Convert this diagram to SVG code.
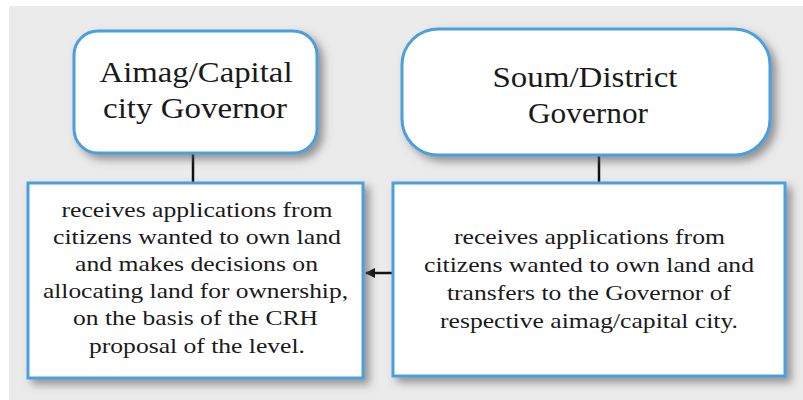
<svg xmlns="http://www.w3.org/2000/svg" width="803" height="400" viewBox="0 0 803 400">
<defs>
<style>
.box{fill:#ffffff;stroke:#4aa0dc;stroke-width:3;filter:url(#sh)}
.t{font-family:'Liberation Serif','Times New Roman',serif;fill:#1a1a1a;text-anchor:middle}
.h{font-size:29px}
.b{font-size:22px}
.c{stroke:#111;stroke-width:2.5;fill:none}
</style>
<filter id="sh" x="-10%" y="-10%" width="130%" height="130%">
<feDropShadow dx="5" dy="5" stdDeviation="4" flood-color="#555" flood-opacity="0.6"/>
</filter>
<marker id="ah" markerWidth="10" markerHeight="10" refX="9" refY="5" orient="auto" markerUnits="userSpaceOnUse">
<path d="M0,0 L10,5 L0,10 Z" fill="#111"/>
</marker>
</defs>
<rect x="0" y="0" width="803" height="400" fill="#ffffff"/>
<rect x="9" y="6" width="794" height="394" fill="#ebebeb"/>
<g id="connectors">
<line class="c" x1="193" y1="153" x2="193" y2="183"/>
<line class="c" x1="599" y1="155" x2="599" y2="183"/>
<line class="c" x1="393" y1="273" x2="366" y2="273" marker-end="url(#ah)"/>
</g>
<g id="aimag-governor">
<rect class="box" x="74" y="31" width="243" height="122" rx="24"/>
<text class="t h" x="196" y="82" textLength="193" lengthAdjust="spacingAndGlyphs">Aimag/Capital</text>
<text class="t h" x="195" y="118" textLength="184" lengthAdjust="spacingAndGlyphs">city Governor</text>
</g>
<g id="soum-governor">
<rect class="box" x="402" y="29" width="368" height="126" rx="36"/>
<text class="t h" x="585" y="87" textLength="185" lengthAdjust="spacingAndGlyphs">Soum/District</text>
<text class="t h" x="588" y="123" textLength="120" lengthAdjust="spacingAndGlyphs">Governor</text>
</g>
<g id="aimag-task">
<rect class="box" x="28" y="183" width="335" height="195"/>
<text class="t b" x="197" y="217" textLength="271" lengthAdjust="spacingAndGlyphs">receives applications from</text>
<text class="t b" x="197" y="244" textLength="288" lengthAdjust="spacingAndGlyphs">citizens wanted to own land</text>
<text class="t b" x="196.5" y="271" textLength="243" lengthAdjust="spacingAndGlyphs">and makes decisions on</text>
<text class="t b" x="195.5" y="298" textLength="305" lengthAdjust="spacingAndGlyphs">allocating land for ownership,</text>
<text class="t b" x="195.5" y="325" textLength="245" lengthAdjust="spacingAndGlyphs">on the basis of the CRH</text>
<text class="t b" x="197" y="353" textLength="216" lengthAdjust="spacingAndGlyphs">proposal of the level.</text>
</g>
<g id="soum-task">
<rect class="box" x="393" y="183" width="392" height="193"/>
<text class="t b" x="589.5" y="244" textLength="271" lengthAdjust="spacingAndGlyphs">receives applications from</text>
<text class="t b" x="589" y="272" textLength="330" lengthAdjust="spacingAndGlyphs">citizens wanted to own land and</text>
<text class="t b" x="589" y="300" textLength="284" lengthAdjust="spacingAndGlyphs">transfers to the Governor of</text>
<text class="t b" x="589" y="328" textLength="298" lengthAdjust="spacingAndGlyphs">respective aimag/capital city.</text>
</g>
</svg>
